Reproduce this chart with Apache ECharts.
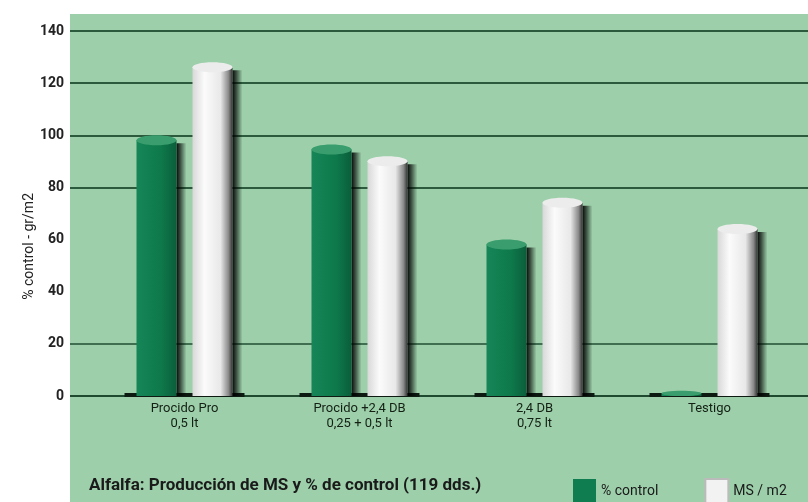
<!DOCTYPE html>
<html>
<head>
<meta charset="utf-8">
<script src="https://cdn.jsdelivr.net/npm/echarts@6/dist/echarts.min.js"></script>
<style>
  html, body { margin: 0; padding: 0; background: #fff; }
  #chart { width: 808px; height: 502px; }
</style>
</head>
<body>
<div id="chart"></div>
<script>
// datos
const categories = ['Procido Pro\n0,5 lt', 'Procido +2,4 DB\n0,25 + 0,5 lt', '2,4 DB\n0,75 lt', 'Testigo']
const controlPct = [100, 96.5, 60, 2]
const msM2 = [128, 92, 76, 66]
const yTicks = [0, 20, 40, 60, 80, 100, 120, 140]

const FONT = 'Roboto, "Liberation Sans Narrow", sans-serif'
const GREEN = '#0f7d50'
const WHITE = '#f2f2f2'

const myChart = echarts.init(document.getElementById('chart'))

// cilindro con sombra, offset = desplazamiento dentro de la categoria (fraccion)
const cylinder = (offset, body, cap) => (params, api) => {
  const cat = api.value(0)
  const val = api.value(1)
  const band = api.size([1, 0])[0]
  const w = band * 40 / 175
  const base = api.coord([cat, 0])
  const top = api.coord([cat, val])
  const cx = base[0] + band * offset
  const x0 = cx - w / 2
  const ry = Math.min(5, Math.max(2, (base[1] - top[1]) / 2))
  const yTop = Math.min(top[1], base[1] - 2 * ry)
  return {
    type: 'group',
    children: [
      {
        type: 'rect',
        shape: { x: x0 + w, y: yTop + ry + 3, width: 10, height: base[1] - yTop - ry - 3 },
        style: {
          fill: new echarts.graphic.LinearGradient(0, 0, 1, 0, [
            { offset: 0, color: 'rgba(0,0,0,0.95)' },
            { offset: 0.4, color: 'rgba(0,0,0,0.6)' },
            { offset: 1, color: 'rgba(0,0,0,0)' }
          ])
        }
      },
      {
        type: 'rect',
        shape: { x: x0, y: yTop + ry, width: w, height: base[1] - yTop - ry },
        style: { fill: new echarts.graphic.LinearGradient(0, 0, 1, 0, body) }
      },
      {
        type: 'ellipse',
        shape: { cx: cx, cy: yTop + ry, rx: w / 2, ry: ry },
        style: { fill: cap }
      }
    ]
  }
}

const baseRender = (params, api) => {
  const cat = api.value(0)
  const band = api.size([1, 0])[0]
  const base = api.coord([cat, 0])
  const w = band * 120 / 175
  return {
    type: 'rect',
    shape: { x: base[0] - w / 2, y: base[1] - 3, width: w, height: 4 },
    style: { fill: '#0d1a12' }
  }
}

const option = {
  backgroundColor: '#ffffff',
  animation: false,
  graphic: [
    {
      type: 'rect',
      z: -10,
      shape: { x: 70, y: 14, width: 738, height: 488 },
      style: { fill: '#9dd0aa' }
    },
    {
      type: 'text',
      left: 22,
      top: 193,
      rotation: Math.PI / 2,
      style: {
        text: '% control - gr/m2',
        font: '14px ' + FONT,
        fill: '#222'
      }
    },
    {
      type: 'text',
      left: 89,
      top: 477,
      style: {
        text: 'Alfalfa: Producción de MS y % de control (119 dds.)',
        font: 'bold 17px ' + FONT,
        fill: '#1a1a1a'
      }
    }
  ],
  legend: {
    left: 568,
    top: 473,
    itemWidth: 23,
    itemHeight: 24,
    itemGap: 46,
    icon: 'rect',
    textStyle: { fontFamily: FONT, fontSize: 14, color: '#1a1a1a' },
    data: ['% control', 'MS / m2']
  },
  grid: [
    { left: 70, right: 0, top: 31, bottom: 106 },
    { left: 97, right: 11, top: 31, bottom: 106 }
  ],
  xAxis: [
    { gridIndex: 0, type: 'value', show: false, min: 0, max: 1 },
    {
      gridIndex: 1,
      type: 'category',
      data: categories,
      axisLine: { show: false },
      axisTick: { show: false },
      axisLabel: {
        margin: 5,
        fontFamily: FONT,
        fontSize: 13,
        lineHeight: 15,
        color: '#142014'
      }
    }
  ],
  yAxis: [
    {
      gridIndex: 0,
      type: 'value',
      min: yTicks[0],
      max: yTicks[yTicks.length - 1],
      interval: 20,
      axisLine: { show: false },
      axisTick: { show: false },
      axisLabel: {
        margin: 6,
        fontFamily: FONT,
        fontWeight: 'bold',
        fontSize: 14,
        color: '#222'
      },
      splitLine: {
        lineStyle: {
          width: 2,
          color: ['#1f4a30', '#3f6e50', 'rgba(0,0,0,0)', 'rgba(0,0,0,0)', '#2c5a3c', '#2c5a3c', '#2c5a3c', '#2c5a3c']
        }
      }
    },
    {
      gridIndex: 1,
      type: 'value',
      min: yTicks[0],
      max: yTicks[yTicks.length - 1],
      interval: 20,
      show: false
    }
  ],
  series: [
    {
      name: 'base',
      type: 'custom',
      xAxisIndex: 1,
      yAxisIndex: 1,
      renderItem: baseRender,
      data: categories.map((c, i) => [i, 0]),
      z: 1
    },
    {
      name: '% control',
      type: 'custom',
      xAxisIndex: 1,
      yAxisIndex: 1,
      itemStyle: { color: GREEN },
      renderItem: cylinder(-28 / 175, [
        { offset: 0, color: '#168557' },
        { offset: 0.6, color: '#0e7a4c' },
        { offset: 1, color: '#0a5e3a' }
      ], '#3a9d6e'),
      data: controlPct.map((v, i) => [i, v]),
      z: 2
    },
    {
      name: 'MS / m2',
      type: 'custom',
      xAxisIndex: 1,
      yAxisIndex: 1,
      itemStyle: { color: WHITE, borderColor: '#bbb', borderWidth: 1 },
      renderItem: cylinder(28 / 175, [
        { offset: 0, color: '#d8d8d8' },
        { offset: 0.3, color: '#fbfbfb' },
        { offset: 0.7, color: '#e8e8e8' },
        { offset: 0.9, color: '#8a8a8a' },
        { offset: 1, color: '#333' }
      ], '#ececec'),
      data: msM2.map((v, i) => [i, v]),
      z: 2
    }
  ]
}

myChart.setOption(option)
</script>
</body>
</html>
